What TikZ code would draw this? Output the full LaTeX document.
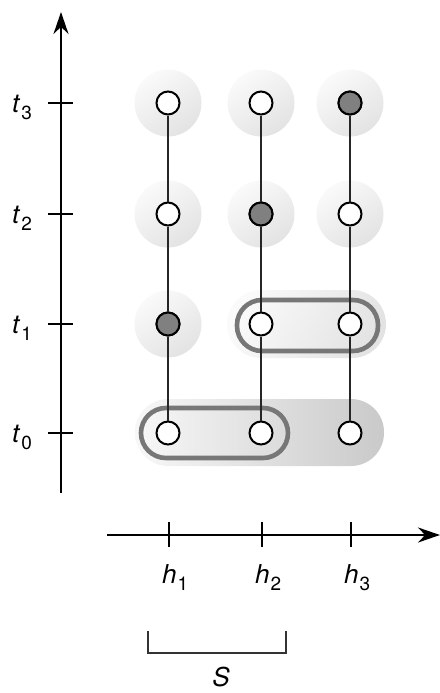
\documentclass[tikz,border=0pt]{standalone}
\usepackage{fontspec}
\setmainfont{TeX Gyre Heros}
\usetikzlibrary{arrows.meta}
\definecolor{ringgray}{HTML}{777777}
\definecolor{dotgray}{HTML}{808080}
% italic variable with an upright, lowered index
\newcommand{\varlab}[2]{\textit{#1}\kern1pt\raisebox{-7pt}{\fontsize{19}{19}\selectfont #2}}
\tikzset{
  axis/.style={line width=2.6pt, -{Stealth[length=22pt,width=15pt]}},
  tick/.style={line width=2pt},
  vline/.style={line width=2pt, black!85},
  state/.style={circle, draw=black, line width=2pt, fill=white, minimum size=23pt, inner sep=0pt},
  hit/.style={state, fill=dotgray},
  halo/.style={top color=white!96!gray, bottom color=gray!22, shading angle=35},
  ring/.style={draw=ringgray, line width=4.6pt, rounded corners=25pt},
  lab/.style={font=\fontsize{26}{28}\selectfont, inner sep=0pt},
}
\begin{document}
\begin{tikzpicture}[x=1pt, y=-1pt]
  \useasboundingbox (0,0) rectangle (439,693);

  % shaded halos behind the single states
  \foreach \x/\y in {168/103, 261/103, 350/103, 168/214, 261/214, 350/214, 168/324}
    \shade[halo] (\x,\y) circle (33.5);
  % shaded bands behind grouped states
  \shade[halo, rounded corners=34pt, shading angle=60] (227,290) rectangle (386,358);
  \shade[left color=gray!6, right color=gray!42, rounded corners=33pt] (135,399) rectangle (384,466);

  % outlined groups
  \draw[ring] (237,300) rectangle (378,351);
  \draw[ring] (141,408) rectangle (288,458);

  % states
  \foreach \c/\x in {1/168, 2/261, 3/350}
    \foreach \r/\y in {0/433, 1/324, 2/214, 3/103}
      \node[state] (n\c\r) at (\x,\y) {};
  \node[hit] at (n11) {};
  \node[hit] at (n22) {};
  \node[hit] at (n33) {};

  % chains through time
  \foreach \c in {1,2,3} {
    \draw[vline] (n\c3) -- (n\c2);
    \draw[vline] (n\c2) -- (n\c1);
    \draw[vline] (n\c1) -- (n\c0);
  }

  % time axis
  \coordinate (tbot) at (61,493);
  \coordinate (ttop) at (61,12);
  \draw[axis] (tbot) -- (ttop);
  \foreach \r/\y in {0/433, 1/324, 2/214, 3/103} {
    \draw[tick] (48,\y) -- (73,\y);
    \node[lab, anchor=base west] (t\r) at (12,\y+9) {\varlab{t}{\r}};
  }

  % hypothesis axis
  \coordinate (hleft) at (107,535);
  \coordinate (hright) at (440,535);
  \draw[axis] (hleft) -- (hright);
  \foreach \c/\x in {1/169, 2/262, 3/351} {
    \draw[tick] (\x,522) -- (\x,547);
    \node[lab, anchor=base west] (h\c) at (\x-7,583) {\varlab{h}{\c}};
  }

  % subset bracket
  \draw[line width=1.6pt, black!80] (148,631) -- (148,653) -- (286,653) -- (286,631);
  \node[lab, anchor=base] (S) at (221,686) {\textit{S}};
\end{tikzpicture}
\end{document}
